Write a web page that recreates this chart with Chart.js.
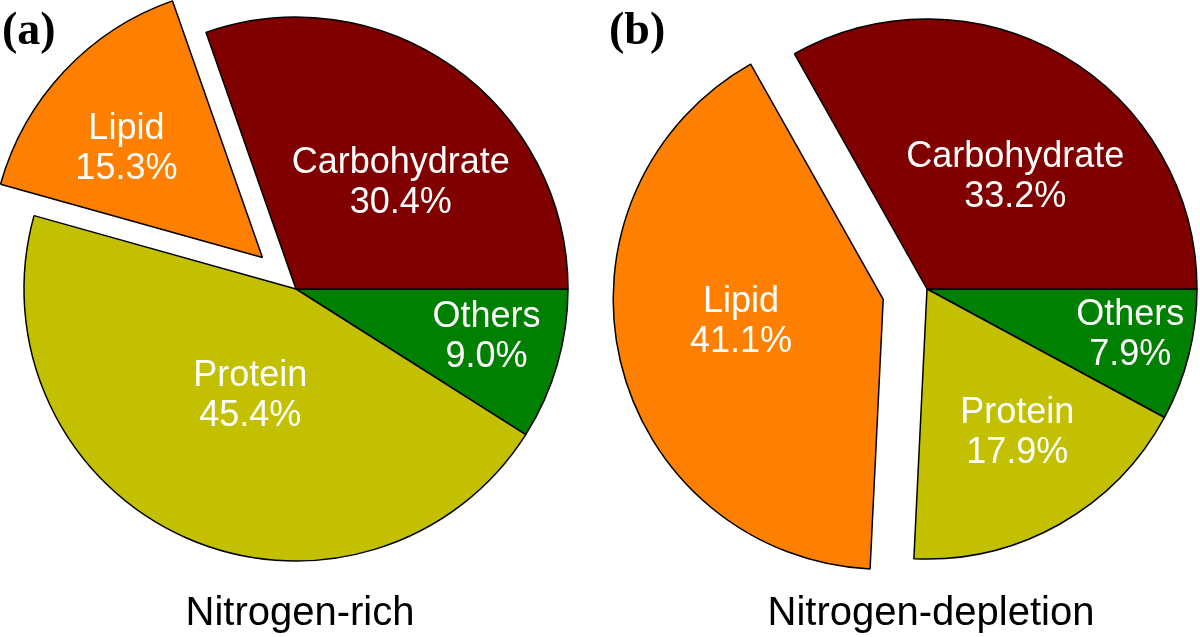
<!DOCTYPE html>
<html>
<head>
<meta charset="utf-8">
<script src="https://cdn.jsdelivr.net/npm/chart.js@4.4.1/dist/chart.umd.min.js"></script>
<style>
  html, body { margin: 0; padding: 0; background: #fff; overflow: hidden; }
  #wrap { position: relative; width: 1200px; height: 637px; }
  #wrap canvas { position: absolute; left: 0; top: 0; }
  .title { position: absolute; width: 400px; text-align: center; font: 40px "Liberation Sans", Arial, sans-serif; line-height: 40px; color: #000; }
  .panel { position: absolute; font: bold 46px "Liberation Serif", "Times New Roman", serif; line-height: 46px; color: #000; }
</style>
</head>
<body>
<div id="wrap">
  <canvas id="richChart" width="1200" height="637"></canvas>
  <canvas id="depletionChart" width="1200" height="637"></canvas>
  <div class="panel" id="panelA" style="left:2px; top:6px;"></div>
  <div class="panel" id="panelB" style="left:609px; top:6px;"></div>
  <div class="title" id="titleA" style="left:100px; top:591px;"></div>
  <div class="title" id="titleB" style="left:731px; top:591px;"></div>
</div>
<script>
// slices are listed clockwise starting from 3 o'clock
const categories = ['Others', 'Protein', 'Lipid', 'Carbohydrate'];
const richValues = [9.0, 45.4, 15.3, 30.4];
const depletionValues = [7.9, 17.9, 41.1, 33.2];
const chartTitles = ['Nitrogen-rich', 'Nitrogen-depletion'];
const panelLabels = ['(a)', '(b)'];

const sliceColors = ['#008000', '#c2c000', '#ff8000', '#800000'];

document.getElementById('panelA').textContent = panelLabels[0];
document.getElementById('panelB').textContent = panelLabels[1];
document.getElementById('titleA').textContent = chartTitles[0];
document.getElementById('titleB').textContent = chartTitles[1];

// pulls single slices out of the pie and writes the white labels
const pieExtras = {
    id: 'pieExtras',
    beforeDatasetsDraw(chart, args, opts) {
        const area = chart.chartArea;
        const cx = (area.left + area.right) / 2;
        const cy = (area.top + area.bottom) / 2;
        chart.getDatasetMeta(0).data.forEach(function (arc, i) {
            const mid = (arc.startAngle + arc.endAngle) / 2;
            const pull = opts.explode[i] || 0;
            arc.x = cx + Math.cos(mid) * pull;
            arc.y = cy + Math.sin(mid) * pull;
        });
    },
    afterDatasetsDraw(chart, args, opts) {
        const ctx = chart.ctx;
        const meta = chart.getDatasetMeta(0);
        const values = chart.data.datasets[0].data;
        ctx.save();
        ctx.fillStyle = '#fff';
        ctx.font = '36px "Liberation Sans", Arial, sans-serif';
        ctx.textAlign = 'center';
        ctx.textBaseline = 'alphabetic';
        meta.data.forEach(function (arc, i) {
            const mid = (arc.startAngle + arc.endAngle) / 2 + opts.turn[i] * Math.PI / 180;
            const r = arc.outerRadius * opts.frac[i];
            const x = arc.x + Math.cos(mid) * r;
            const y = arc.y + Math.sin(mid) * r;
            ctx.fillText(chart.data.labels[i], x, y - 7.5);
            ctx.fillText(values[i].toFixed(1) + '%', x, y + 32.5);
        });
        ctx.restore();
    }
};

function makePie(id, values, radius, padding, extras) {
    return new Chart(document.getElementById(id), {
        type: 'pie',
        data: {
            labels: categories,
            datasets: [{
                data: values,
                backgroundColor: sliceColors,
                borderColor: '#000',
                borderWidth: 1.5,
            }],
        },
        options: {
            responsive: false,
            animation: false,
            rotation: 90,
            radius: radius,
            layout: { padding: padding },
            events: [],
            plugins: {
                legend: { display: false },
                tooltip: { enabled: false },
                pieExtras: extras,
            },
        },
        plugins: [pieExtras],
    });
}

makePie('richChart', richValues, 272,
    { left: 0, right: 608, top: 0, bottom: 59 },
    { explode: [0, 0, 46, 0], frac: [0.72, 0.42, 0.645, 0.554], turn: [-2.7, -0.4, -4, 8.7] });

makePie('depletionChart', depletionValues, 270,
    { left: 654, right: 0, top: 0, bottom: 59 },
    { explode: [0, 0, 45, 0], frac: [0.77, 0.62, 0.532, 0.536], turn: [-2, -3.2, 5.2, 7.3] });
</script>
</body>
</html>
